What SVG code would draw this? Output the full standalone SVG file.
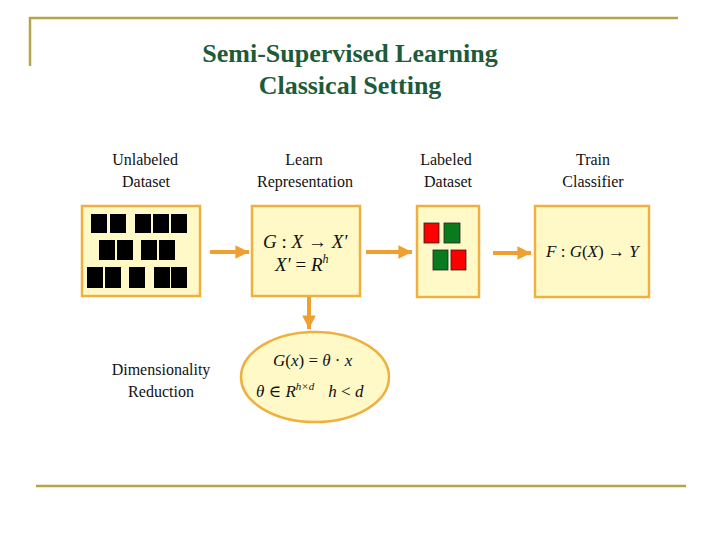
<svg xmlns="http://www.w3.org/2000/svg" width="720" height="540" viewBox="0 0 720 540">
<defs>
<style>
.title{font-family:"Liberation Serif","DejaVu Serif",serif;font-size:26px;fill:#1d5b3a;text-anchor:middle;font-weight:bold}
.lbl{font-family:"Liberation Serif","DejaVu Serif",serif;font-size:16px;fill:#111;text-anchor:middle}
.math{font-family:"Liberation Serif","DejaVu Serif",serif;font-size:17px;fill:#111;font-style:italic}
.big{font-size:19px}
.up{font-style:normal}
.box{fill:#fff9c8;stroke:#f0b040;stroke-width:2.5}
.blk{fill:#000}
.red{fill:#ff0000;stroke:#222;stroke-width:0.8}
.grn{fill:#0a7a1e;stroke:#222;stroke-width:0.8}
.conn{stroke:#f0a030;stroke-width:4;fill:none}
.frame{stroke:#b8a448;stroke-width:2.5;fill:none}
</style>
<marker id="ah" viewBox="0 0 10 10" refX="10" refY="5" markerWidth="3.4" markerHeight="3.4" orient="auto" markerUnits="strokeWidth">
<path d="M0,0 L10,5 L0,10 z" fill="#f0a030"/>
</marker>
</defs>
<rect width="720" height="540" fill="#fff"/>
<g id="frame">
<path class="frame" d="M30,66 V18 H678"/>
<path class="frame" d="M36,486 H686"/>
</g>
<g id="title">
<text class="title" x="350" y="62">Semi-Supervised Learning</text>
<text class="title" x="350" y="94">Classical Setting</text>
</g>
<g id="labels">
<text class="lbl" x="145" y="165">Unlabeled</text>
<text class="lbl" x="146" y="187">Dataset</text>
<text class="lbl" x="304" y="165">Learn</text>
<text class="lbl" x="305" y="187">Representation</text>
<text class="lbl" x="446" y="165">Labeled</text>
<text class="lbl" x="448" y="187">Dataset</text>
<text class="lbl" x="593" y="165">Train</text>
<text class="lbl" x="593" y="187">Classifier</text>
<text class="lbl" x="161" y="375">Dimensionality</text>
<text class="lbl" x="161" y="397">Reduction</text>
</g>
<g id="node-unlabeled">
<rect class="box" x="82" y="206" width="118" height="90"/>
<rect class="blk" x="91" y="214" width="16" height="19"/>
<rect class="blk" x="110" y="214" width="16" height="19"/>
<rect class="blk" x="135" y="214" width="16" height="19"/>
<rect class="blk" x="153" y="214" width="16" height="19"/>
<rect class="blk" x="171" y="214" width="16" height="19"/>
<rect class="blk" x="99" y="240" width="16" height="20"/>
<rect class="blk" x="117" y="240" width="16" height="20"/>
<rect class="blk" x="141" y="240" width="16" height="20"/>
<rect class="blk" x="159" y="240" width="16" height="20"/>
<rect class="blk" x="87" y="267" width="16" height="21"/>
<rect class="blk" x="105" y="267" width="16" height="21"/>
<rect class="blk" x="129" y="267" width="16" height="21"/>
<rect class="blk" x="154" y="267" width="16" height="21"/>
<rect class="blk" x="171" y="267" width="16" height="21"/>
</g>
<g id="node-learn">
<rect class="box" x="252" y="206" width="108" height="90"/>
<text class="math big" x="263" y="248">G<tspan class="up"> : </tspan>X<tspan class="up"> → </tspan>X'</text>
<text class="math big" x="275" y="271">X'<tspan class="up"> = </tspan>R<tspan dy="-8" style="font-size:12px">h</tspan></text>
</g>
<g id="node-labeled">
<rect class="box" x="417" y="206" width="62" height="91"/>
<rect class="red" x="424" y="223" width="15" height="20"/>
<rect class="grn" x="444" y="223" width="16" height="20"/>
<rect class="grn" x="433" y="250" width="15" height="20"/>
<rect class="red" x="451" y="250" width="15" height="20"/>
</g>
<g id="node-train">
<rect class="box" x="535" y="206" width="114" height="91"/>
<text class="math" x="546" y="257">F<tspan class="up"> : </tspan>G<tspan class="up">(</tspan>X<tspan class="up">) → </tspan>Y</text>
</g>
<g id="node-dimred">
<ellipse class="box" cx="315" cy="377" rx="74" ry="45"/>
<text class="math" x="273" y="366">G<tspan class="up">(</tspan>x<tspan class="up">) = </tspan>θ<tspan class="up"> · </tspan>x</text>
<text class="math" x="256" y="397">θ<tspan class="up"> ∈ </tspan>R<tspan dy="-7" style="font-size:11px">h×d</tspan><tspan dy="7" dx="14">h</tspan><tspan class="up"> &lt; </tspan>d</text>
</g>
<g id="connectors">
<line class="conn" x1="210" y1="252" x2="249" y2="252" marker-end="url(#ah)"/>
<line class="conn" x1="366" y1="252" x2="412" y2="252" marker-end="url(#ah)"/>
<line class="conn" x1="493" y1="253" x2="531" y2="253" marker-end="url(#ah)"/>
<line class="conn" x1="309" y1="297" x2="309" y2="329" marker-end="url(#ah)"/>
</g>
</svg>
